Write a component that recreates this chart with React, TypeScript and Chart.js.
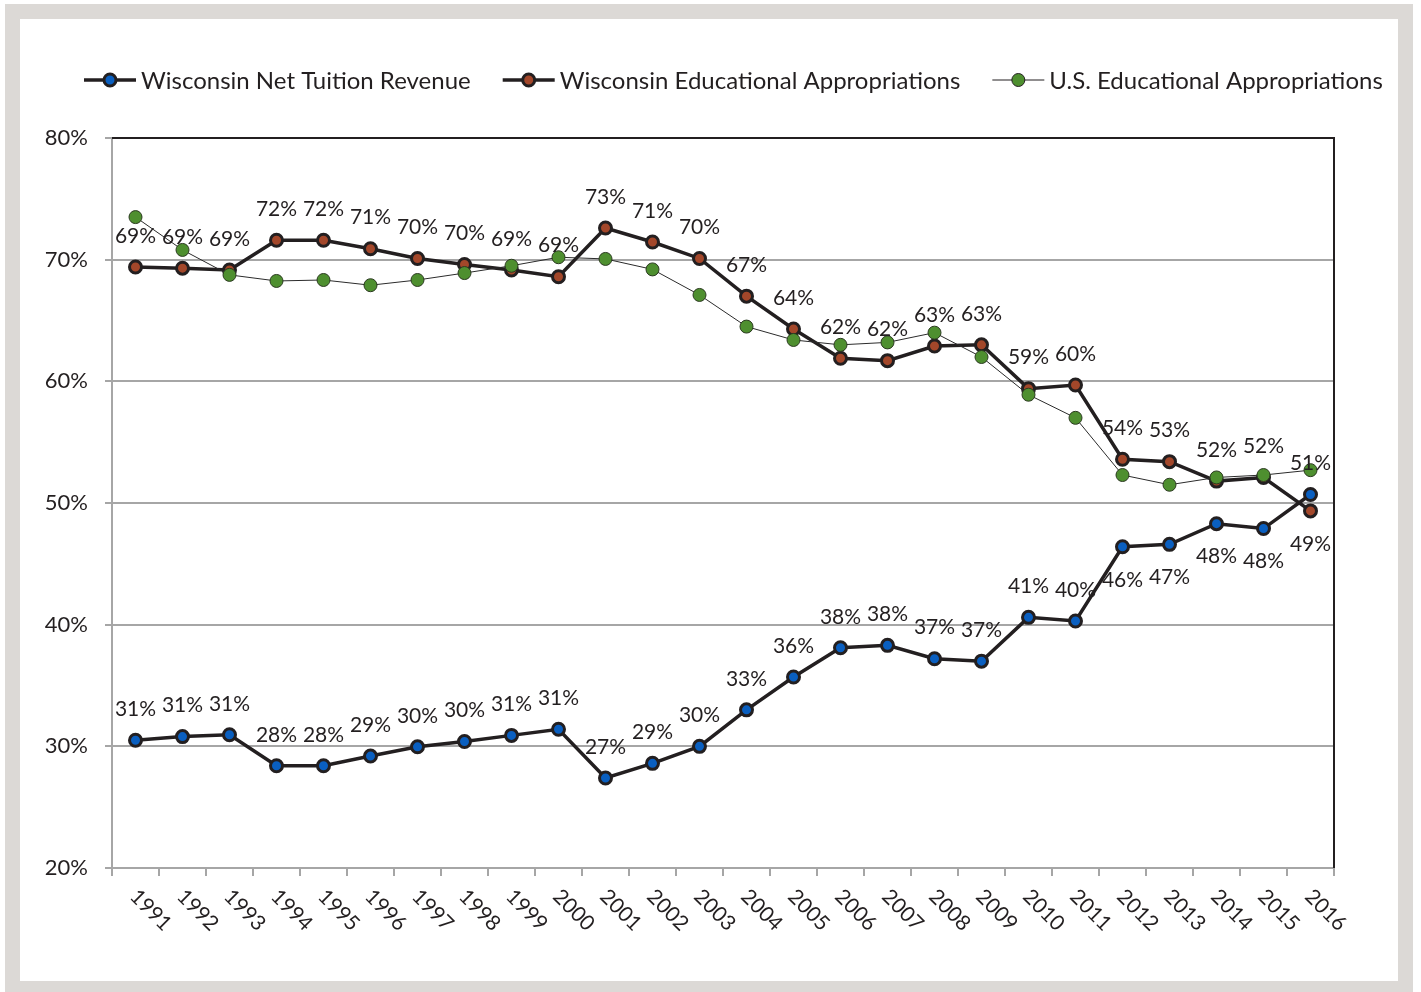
import React, { useEffect, useRef } from "react";
import { Chart, registerables } from "chart.js";

Chart.register(...registerables);

const years = ["1991","1992","1993","1994","1995","1996","1997","1998","1999","2000","2001","2002","2003","2004","2005","2006","2007","2008","2009","2010","2011","2012","2013","2014","2015","2016"];

const wiTuition = [30.5,30.8,30.95,28.4,28.4,29.2,29.96,30.4,30.9,31.4,27.4,28.6,30.0,33.0,35.7,38.1,38.3,37.2,37.0,40.6,40.3,46.4,46.6,48.3,47.9,50.7];

const wiApprop = [69.4,69.3,69.15,71.6,71.6,70.9,70.1,69.6,69.15,68.6,72.6,71.45,70.1,67.0,64.3,61.9,61.7,62.9,63.0,59.4,59.7,53.6,53.4,51.8,52.1,49.35];

const usApprop = [73.5,70.8,68.75,68.25,68.33,67.9,68.33,68.9,69.5,70.2,70.06,69.2,67.1,64.5,63.4,63.0,63.2,64.0,62.0,58.9,57.0,52.3,51.5,52.1,52.3,52.7];

const seriesNames = ["Wisconsin Net Tuition Revenue", "Wisconsin Educational Appropriations", "U.S. Educational Appropriations"];

const yTicks = [20, 30, 40, 50, 60, 70, 80];

// label placement per point: "a" above, "b" below
const tuitionLabelPos = ["a","a","a","a","a","a","a","a","a","a","a","a","a","a","a","a","a","a","a","a","a","b","b","b","b","a"];
const appropLabelPos = ["a","a","a","a","a","a","a","a","a","a","a","a","a","a","a","a","a","a","a","a","a","a","a","a","a","b"];

const INK = "#231f20";
const FONT = "Lato";

export default function App() {
  const ref = useRef<HTMLCanvasElement | null>(null);

  useEffect(() => {
    const canvas = ref.current;
    if (!canvas) return;

    const overlay = {
      id: "overlay",
      beforeDatasetsDraw(chart: any) {
        const { ctx, chartArea } = chart;
        ctx.save();
        ctx.strokeStyle = INK;
        ctx.lineWidth = 2;
        ctx.beginPath();
        ctx.moveTo(chartArea.left, chartArea.top);
        ctx.lineTo(chartArea.right, chartArea.top);
        ctx.lineTo(chartArea.right, chartArea.bottom);
        ctx.stroke();
        ctx.restore();
      },
      afterDatasetsDraw(chart: any) {
        const { ctx, chartArea } = chart;
        ctx.save();
        // data labels
        ctx.font = `21px ${FONT}`;
        ctx.fillStyle = INK;
        ctx.textAlign = "center";
        ctx.textBaseline = "middle";
        const posArr = [tuitionLabelPos, appropLabelPos];
        [0, 1].forEach((di) => {
          const meta = chart.getDatasetMeta(di);
          const data = chart.data.datasets[di].data as number[];
          meta.data.forEach((pt: any, i: number) => {
            const above = posArr[di][i] === "a";
            const y = above ? pt.y - 31 : pt.y + 33;
            ctx.fillText(Math.round(data[i]) + "%", pt.x, y);
          });
        });
        // x labels rotated clockwise
        const xs = chart.scales.x;
        ctx.font = `21px ${FONT}`;
        ctx.textAlign = "left";
        ctx.textBaseline = "middle";
        years.forEach((yr, i) => {
          const x = xs.getPixelForValue(i);
          ctx.save();
          ctx.translate(x - 2, chartArea.bottom + 25);
          ctx.rotate(Math.PI / 4);
          ctx.fillText(yr, 0, 0);
          ctx.restore();
        });
        // legend
        ctx.font = `24px ${FONT}`;
        ctx.textAlign = "left";
        ctx.textBaseline = "middle";
        let lx = 84;
        const ly = 80;
        const fills = ["#0a5fc0", "#a3472a", "#4e8f2f"];
        seriesNames.forEach((name, i) => {
          const heavy = i < 2;
          ctx.strokeStyle = INK;
          ctx.lineWidth = heavy ? 3.5 : 1;
          ctx.beginPath();
          ctx.moveTo(lx, ly);
          ctx.lineTo(lx + 52, ly);
          ctx.stroke();
          ctx.beginPath();
          ctx.arc(lx + 26, ly, heavy ? 6 : 6.5, 0, Math.PI * 2);
          ctx.fillStyle = fills[i];
          ctx.fill();
          ctx.lineWidth = heavy ? 3 : 1;
          ctx.stroke();
          ctx.fillStyle = INK;
          ctx.fillText(name, lx + 57, ly + 1);
          lx += 57 + ctx.measureText(name).width + 32;
        });
        ctx.restore();
      },
    };

    const chart = new Chart(canvas, {
      type: "line",
      data: {
        labels: years,
        datasets: [
          {
            label: seriesNames[0],
            data: wiTuition,
            borderColor: INK,
            borderWidth: 3.5,
            pointRadius: 6,
            pointBorderWidth: 3,
            pointBackgroundColor: "#0a5fc0",
            pointBorderColor: INK,
            tension: 0,
            order: 2,
          },
          {
            label: seriesNames[1],
            data: wiApprop,
            borderColor: INK,
            borderWidth: 3.5,
            pointRadius: 6,
            pointBorderWidth: 3,
            pointBackgroundColor: "#a3472a",
            pointBorderColor: INK,
            tension: 0,
            order: 1,
          },
          {
            label: seriesNames[2],
            data: usApprop,
            borderColor: "#2b2b2b",
            borderWidth: 1,
            pointRadius: 6.5,
            pointBorderWidth: 1,
            pointBackgroundColor: "#4e8f2f",
            pointBorderColor: "#2b3a20",
            tension: 0,
            order: 0,
          },
        ],
      },
      options: {
        responsive: false,
        animation: false,
        layout: { padding: { top: 138, right: 87, left: 0, bottom: 0 } },
        plugins: { legend: { display: false }, tooltip: { enabled: false } },
        scales: {
          x: {
            type: "category",
            offset: true,
            grid: {
              offset: true,
              drawOnChartArea: false,
              drawTicks: true,
              tickLength: 8,
              color: "#a6a6a6",
              lineWidth: 2,
            },
            border: { color: "#a6a6a6", width: 2 },
            ticks: { display: false },
            afterFit: (s: any) => {
              s.height = 124;
            },
          },
          y: {
            min: 20,
            max: 80,
            afterBuildTicks: (s: any) => {
              s.ticks = yTicks.map((v) => ({ value: v }));
            },
            ticks: {
              callback: (v: any) => v + "%",
              font: { family: FONT, size: 22 },
              color: INK,
              padding: 17,
            },
            grid: { color: "#a6a6a6", lineWidth: 2, tickLength: 7 },
            border: { color: "#a6a6a6", width: 2 },
            afterFit: (s: any) => {
              s.width = 112;
            },
          },
        },
      },
      plugins: [overlay],
    });

    return () => chart.destroy();
  }, []);

  return (
    <div style={{ position: "absolute", left: 0, top: 0, width: 1421, height: 992, background: "#ffffff", overflow: "hidden" }}>
      <div style={{ position: "absolute", left: 5, top: 4, width: 1408, height: 1000, background: "#dcd9d6" }} />
      <div style={{ position: "absolute", left: 20, top: 19, width: 1378, height: 962, background: "#ffffff" }} />
      <canvas ref={ref} width={1421} height={992} style={{ position: "absolute", left: 0, top: 0, width: 1421, height: 992 }} />
    </div>
  );
}
